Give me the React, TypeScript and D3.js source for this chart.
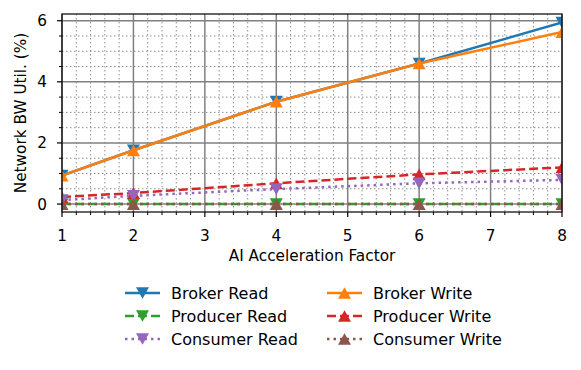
import React, { useRef, useEffect } from 'react';
import * as d3 from 'd3';

const factors = [1, 2, 4, 6, 8];

const brokerRead = [0.93, 1.76, 3.35, 4.6, 5.94];
const brokerWrite = [0.93, 1.76, 3.35, 4.6, 5.63];
const producerRead = [0, 0, 0, 0, 0];
const producerWrite = [0.23, 0.36, 0.68, 0.97, 1.2];
const consumerRead = [0.13, 0.27, 0.49, 0.68, 0.79];
const consumerWrite = [0, 0, 0, 0, 0];

const xTicks = [1, 2, 3, 4, 5, 6, 7, 8];
const yTicks = [0, 2, 4, 6];
const yMinorTicks = [0.5, 1, 1.5, 2.5, 3, 3.5, 4.5, 5, 5.5];

type Series = { name: string; values: number[]; color: string; dash: string; marker: 'down' | 'up' };

const series: Series[] = [
  { name: 'Broker Read', values: brokerRead, color: '#1f77b4', dash: '', marker: 'down' },
  { name: 'Broker Write', values: brokerWrite, color: '#ff7f0e', dash: '', marker: 'up' },
  { name: 'Producer Read', values: producerRead, color: '#2ca02c', dash: '9,4', marker: 'down' },
  { name: 'Producer Write', values: producerWrite, color: '#d62728', dash: '9,4', marker: 'up' },
  { name: 'Consumer Read', values: consumerRead, color: '#9467bd', dash: '2.5,4', marker: 'down' },
  { name: 'Consumer Write', values: consumerWrite, color: '#8c564b', dash: '2.5,4', marker: 'up' },
];

// legend is column-major, 2 columns
const legendOrder = ['Broker Read', 'Producer Read', 'Consumer Read', 'Broker Write', 'Producer Write', 'Consumer Write'];

const W = 581;
const H = 370;
const FONT = 'DejaVu Sans, sans-serif';
const FS = 15.3;
const LEG_FS = 16;

const triPath = (kind: 'down' | 'up', s: number) => {
  const h = s * 0.9;
  return kind === 'down'
    ? `M${-s / 2},${-h / 2}L${s / 2},${-h / 2}L0,${h / 2}Z`
    : `M${-s / 2},${h / 2}L${s / 2},${h / 2}L0,${-h / 2}Z`;
};

export default function App() {
  const svgRef = useRef<SVGSVGElement>(null);

  useEffect(() => {
    if (!svgRef.current) return;
    const svg = d3.select(svgRef.current);
    svg.selectAll('*').remove();

    const left = 62, right = 562, top = 14, bottom = 212;

    const x = d3.scaleLinear().domain([1, 8]).range([left, right]);
    const y = d3.scaleLinear().domain([-0.26, 6.22]).range([bottom, top]);

    const g = svg.append('g');

    // minor grid
    const xMinor = d3.range(1, 8.001, 0.2).filter(v => Math.abs(v - Math.round(v)) > 0.01);
    g.selectAll('.xminor').data(xMinor).enter().append('line')
      .attr('x1', d => x(d)).attr('x2', d => x(d)).attr('y1', top).attr('y2', bottom)
      .attr('stroke', '#8f8f8f').attr('stroke-width', 1).attr('stroke-dasharray', '1.5,2.5');
    g.selectAll('.yminor').data(yMinorTicks).enter().append('line')
      .attr('y1', d => y(d)).attr('y2', d => y(d)).attr('x1', left).attr('x2', right)
      .attr('stroke', '#8f8f8f').attr('stroke-width', 1).attr('stroke-dasharray', '1.5,2.5');

    // major grid
    g.selectAll('.xmajor').data(xTicks).enter().append('line')
      .attr('x1', d => x(d)).attr('x2', d => x(d)).attr('y1', top).attr('y2', bottom)
      .attr('stroke', '#808080').attr('stroke-width', 1.5);
    g.selectAll('.ymajor').data(yTicks).enter().append('line')
      .attr('y1', d => y(d)).attr('y2', d => y(d)).attr('x1', left).attr('x2', right)
      .attr('stroke', '#808080').attr('stroke-width', 1.5);

    // series
    const clip = svg.append('defs').append('clipPath').attr('id', 'plot-clip');
    clip.append('rect').attr('x', left).attr('y', top).attr('width', right - left).attr('height', bottom - top);

    const line = d3.line<number>()
      .x((_, i) => x(factors[i]))
      .y(d => y(d));

    const plot = g.append('g').attr('clip-path', 'url(#plot-clip)');
    series.forEach(s => {
      plot.append('path')
        .datum(s.values)
        .attr('fill', 'none')
        .attr('stroke', s.color)
        .attr('stroke-width', 2.5)
        .attr('stroke-dasharray', s.dash || null)
        .attr('d', line);
      plot.selectAll(null).data(s.values).enter().append('path')
        .attr('transform', (d, i) => `translate(${x(factors[i])},${y(d)})`)
        .attr('d', triPath(s.marker, 13))
        .attr('fill', s.color);
    });

    // spines
    g.append('rect')
      .attr('x', left).attr('y', top).attr('width', right - left).attr('height', bottom - top)
      .attr('fill', 'none').attr('stroke', '#000').attr('stroke-width', 1.2);

    // ticks
    g.selectAll('.xt').data(xTicks).enter().append('line')
      .attr('x1', d => x(d)).attr('x2', d => x(d)).attr('y1', bottom).attr('y2', bottom + 5)
      .attr('stroke', '#000').attr('stroke-width', 1.2);
    g.selectAll('.xtm').data(xMinor).enter().append('line')
      .attr('x1', d => x(d)).attr('x2', d => x(d)).attr('y1', bottom).attr('y2', bottom + 3)
      .attr('stroke', '#000').attr('stroke-width', 1);
    g.selectAll('.yt').data(yTicks).enter().append('line')
      .attr('y1', d => y(d)).attr('y2', d => y(d)).attr('x1', left - 5).attr('x2', left)
      .attr('stroke', '#000').attr('stroke-width', 1.2);
    g.selectAll('.ytm').data(yMinorTicks).enter().append('line')
      .attr('y1', d => y(d)).attr('y2', d => y(d)).attr('x1', left - 3).attr('x2', left)
      .attr('stroke', '#000').attr('stroke-width', 1);

    g.selectAll('.xl').data(xTicks).enter().append('text')
      .attr('x', d => x(d)).attr('y', bottom + 29)
      .attr('text-anchor', 'middle').attr('font-family', FONT).attr('font-size', FS)
      .attr('fill', '#000').text(d => String(d));
    g.selectAll('.yl').data(yTicks).enter().append('text')
      .attr('x', left - 15).attr('y', d => y(d) + 5.5)
      .attr('text-anchor', 'end').attr('font-family', FONT).attr('font-size', FS)
      .attr('fill', '#000').text(d => String(d));

    svg.append('text')
      .attr('x', (left + right) / 2).attr('y', 261)
      .attr('text-anchor', 'middle').attr('font-family', FONT).attr('font-size', FS)
      .text('AI Acceleration Factor');
    svg.append('text')
      .attr('transform', `translate(26,${(top + bottom) / 2}) rotate(-90)`)
      .attr('text-anchor', 'middle').attr('font-family', FONT).attr('font-size', FS)
      .text('Network BW Util. (%)');

    // legend
    const leg = svg.append('g');
    legendOrder.forEach((name, idx) => {
      const s = series.find(d => d.name === name)!;
      const col = Math.floor(idx / 3);
      const row = idx % 3;
      const lx = 125 + col * 202;
      const ly = 293 + row * 23;
      leg.append('line')
        .attr('x1', lx).attr('x2', lx + 35).attr('y1', ly).attr('y2', ly)
        .attr('stroke', s.color).attr('stroke-width', 2.5)
        .attr('stroke-dasharray', s.dash || null);
      leg.append('path')
        .attr('transform', `translate(${lx + 17.5},${ly})`)
        .attr('d', triPath(s.marker, 13))
        .attr('fill', s.color);
      leg.append('text')
        .attr('x', lx + 46).attr('y', ly + 6)
        .attr('font-family', FONT).attr('font-size', LEG_FS).attr('fill', '#000')
        .text(name);
    });
  }, []);

  return (
    <svg ref={svgRef} width={W} height={H} style={{ display: 'block', margin: -8, background: '#fff' }} />
  );
}
